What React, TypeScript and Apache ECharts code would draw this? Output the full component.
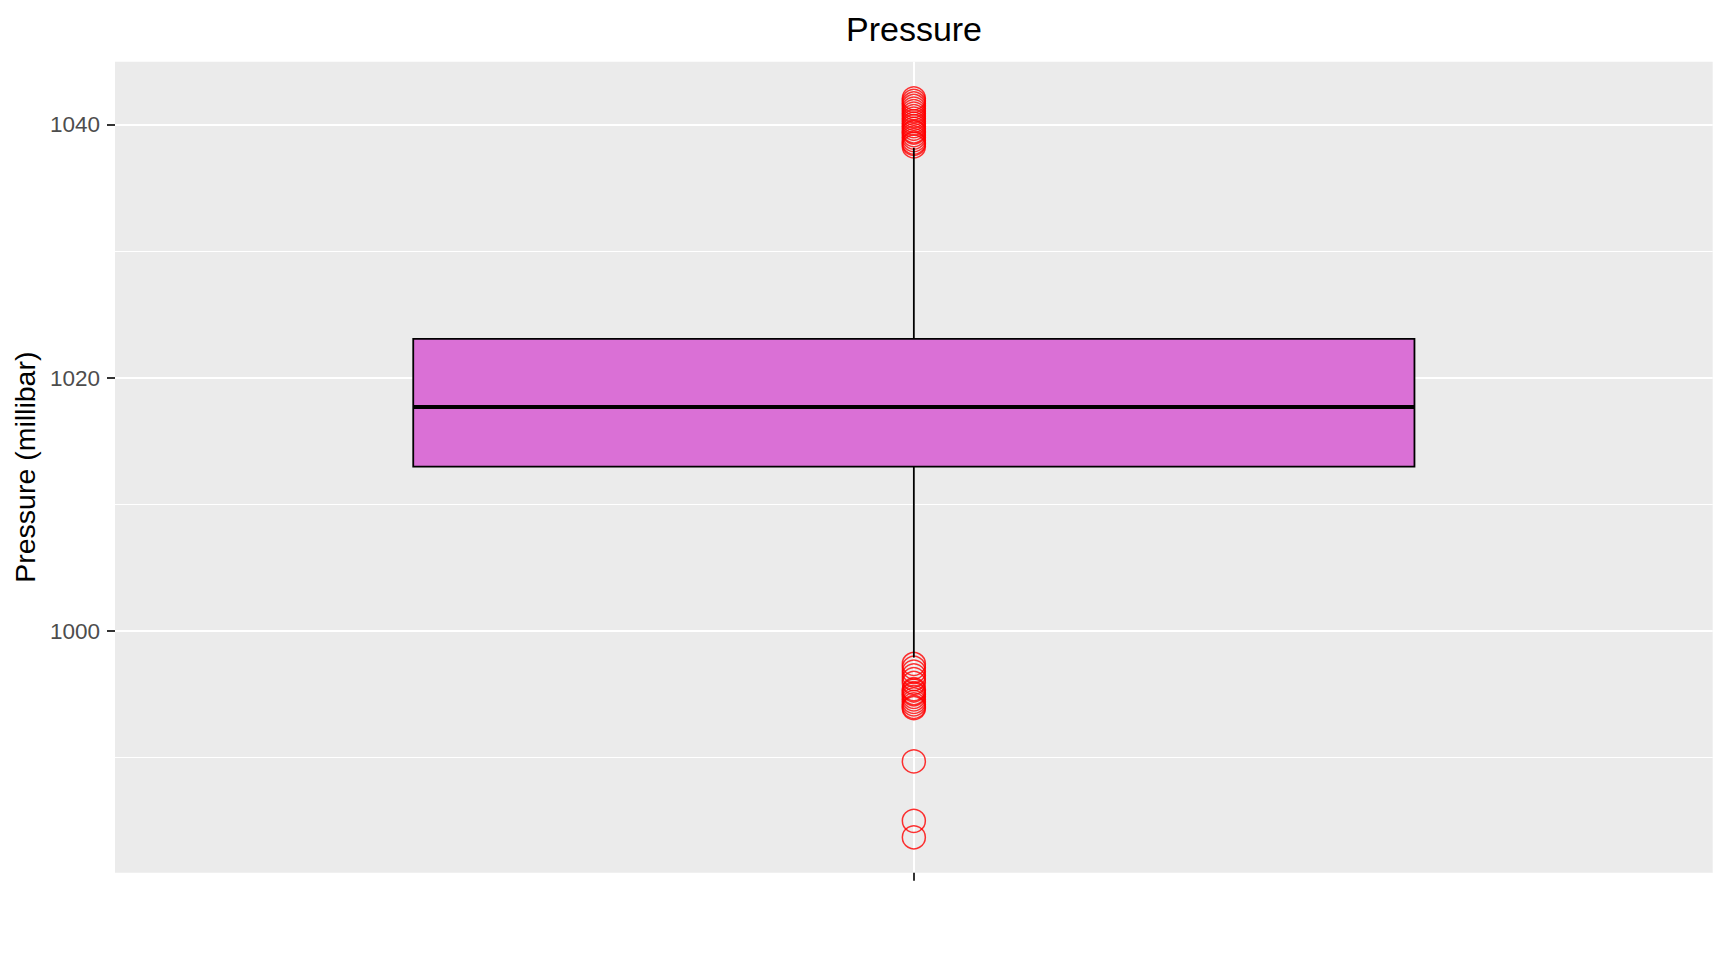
import React, { useEffect, useRef } from "react";
import * as echarts from "echarts";

const categories = ["Pressure"];
// lower whisker, Q1, median, Q3, upper whisker
const boxStats = [997.9, 1013.0, 1017.7, 1023.1, 1038.2];
const outliersHigh = [
  1038.3, 1038.5, 1038.6, 1038.8, 1039.0, 1039.2, 1039.4, 1039.5, 1039.7, 1039.9,
  1040.1, 1040.3, 1040.5, 1040.7, 1040.9, 1041.1, 1041.3, 1041.5, 1041.7, 1041.9, 1042.1,
];
const outliersLow = [
  997.4, 997.1, 996.8, 996.5, 996.2, 995.9, 995.4, 995.3, 995.1, 995.0, 994.8,
  994.6, 994.4, 994.2, 994.0, 993.9, 989.7, 985.0, 983.7,
];
const yTickLabels = [1000, 1020, 1040];
const yRange = [980.9, 1045.0];
const xRange = [0.4, 1.6];
const boxHalfWidth = 0.376;

const FONT = "'Liberation Sans', Arial, sans-serif";

export default function App() {
  const ref = useRef<HTMLDivElement>(null);

  useEffect(() => {
    const chart = echarts.init(ref.current!, null, { renderer: "svg" });
    const boxData = [[1, ...boxStats]];
    const outlierData = [...outliersHigh, ...outliersLow].map((v) => [1, v]);

    chart.setOption({
      animation: false,
      backgroundColor: "#FFFFFF",
      textStyle: { fontFamily: FONT },
      graphic: [
        {
          type: "text",
          x: 914,
          y: 29,
          style: {
            text: categories[0],
            fontFamily: FONT,
            fontSize: 34,
            fill: "#000000",
            textAlign: "center",
            textVerticalAlign: "middle",
          },
        },
      ],
      grid: {
        left: 115,
        right: 15.3,
        top: 61.7,
        bottom: 87.3,
        show: true,
        backgroundColor: "#EBEBEB",
        borderWidth: 0,
      },
      xAxis: {
        type: "value",
        min: xRange[0],
        max: xRange[1],
        axisLine: { show: false },
        axisTick: {
          show: true,
          customValues: [1],
          length: 8,
          lineStyle: { color: "#333333", width: 2 },
        },
        axisLabel: { show: false, customValues: [1] },
        splitLine: { show: true, lineStyle: { color: "#FFFFFF", width: 2 } },
        minorSplitLine: { show: false },
      },
      yAxis: {
        type: "value",
        min: yRange[0],
        max: yRange[1],
        splitNumber: 3,
        name: "Pressure (millibar)",
        nameLocation: "middle",
        nameRotate: 90,
        nameGap: 69,
        nameTextStyle: { fontFamily: FONT, fontSize: 28.5, color: "#000000" },
        axisLine: { show: false },
        axisTick: {
          show: true,
          customValues: yTickLabels,
          length: 8,
          lineStyle: { color: "#333333", width: 2 },
        },
        axisLabel: {
          customValues: yTickLabels,
          margin: 15,
          fontFamily: FONT,
          fontSize: 22.5,
          color: "#4D4D4D",
          formatter: (v: number) => String(v),
        },
        splitLine: { show: true, lineStyle: { color: "#FFFFFF", width: 2 } },
        minorTick: { show: false, splitNumber: 2 },
        minorSplitLine: { show: true, lineStyle: { color: "#FFFFFF", width: 1 } },
      },
      series: [
        {
          type: "scatter",
          z: 2,
          data: outlierData,
          symbol: "circle",
          symbolSize: 23,
          itemStyle: {
            color: "rgba(0,0,0,0)",
            borderColor: "#FF0000",
            borderWidth: 1.5,
          },
          silent: true,
        },
        {
          type: "custom",
          z: 3,
          data: boxData,
          encode: { x: 0, y: [1, 2, 3, 4, 5] },
          renderItem: (params: any, api: any) => {
            const x = api.value(0);
            const low = api.value(1);
            const q1 = api.value(2);
            const med = api.value(3);
            const q3 = api.value(4);
            const high = api.value(5);
            const tl = api.coord([x - boxHalfWidth, q3]);
            const br = api.coord([x + boxHalfWidth, q1]);
            const cHigh = api.coord([x, high]);
            const cQ3 = api.coord([x, q3]);
            const cQ1 = api.coord([x, q1]);
            const cLow = api.coord([x, low]);
            const mL = api.coord([x - boxHalfWidth, med]);
            const mR = api.coord([x + boxHalfWidth, med]);
            const stroke = { stroke: "#000000", lineWidth: 1.8 };
            return {
              type: "group",
              children: [
                {
                  type: "line",
                  shape: { x1: cHigh[0], y1: cHigh[1], x2: cQ3[0], y2: cQ3[1] },
                  style: stroke,
                },
                {
                  type: "line",
                  shape: { x1: cLow[0], y1: cLow[1], x2: cQ1[0], y2: cQ1[1] },
                  style: stroke,
                },
                {
                  type: "rect",
                  shape: {
                    x: tl[0],
                    y: tl[1],
                    width: br[0] - tl[0],
                    height: br[1] - tl[1],
                  },
                  style: { fill: "#DA70D6", stroke: "#000000", lineWidth: 1.8 },
                },
                {
                  type: "line",
                  shape: { x1: mL[0], y1: mL[1], x2: mR[0], y2: mR[1] },
                  style: { stroke: "#000000", lineWidth: 4 },
                },
              ],
            };
          },
        },
      ],
    });

    return () => chart.dispose();
  }, []);

  return (
    <div
      ref={ref}
      style={{ position: "fixed", left: 0, top: 0, width: 1728, height: 960 }}
    />
  );
}
